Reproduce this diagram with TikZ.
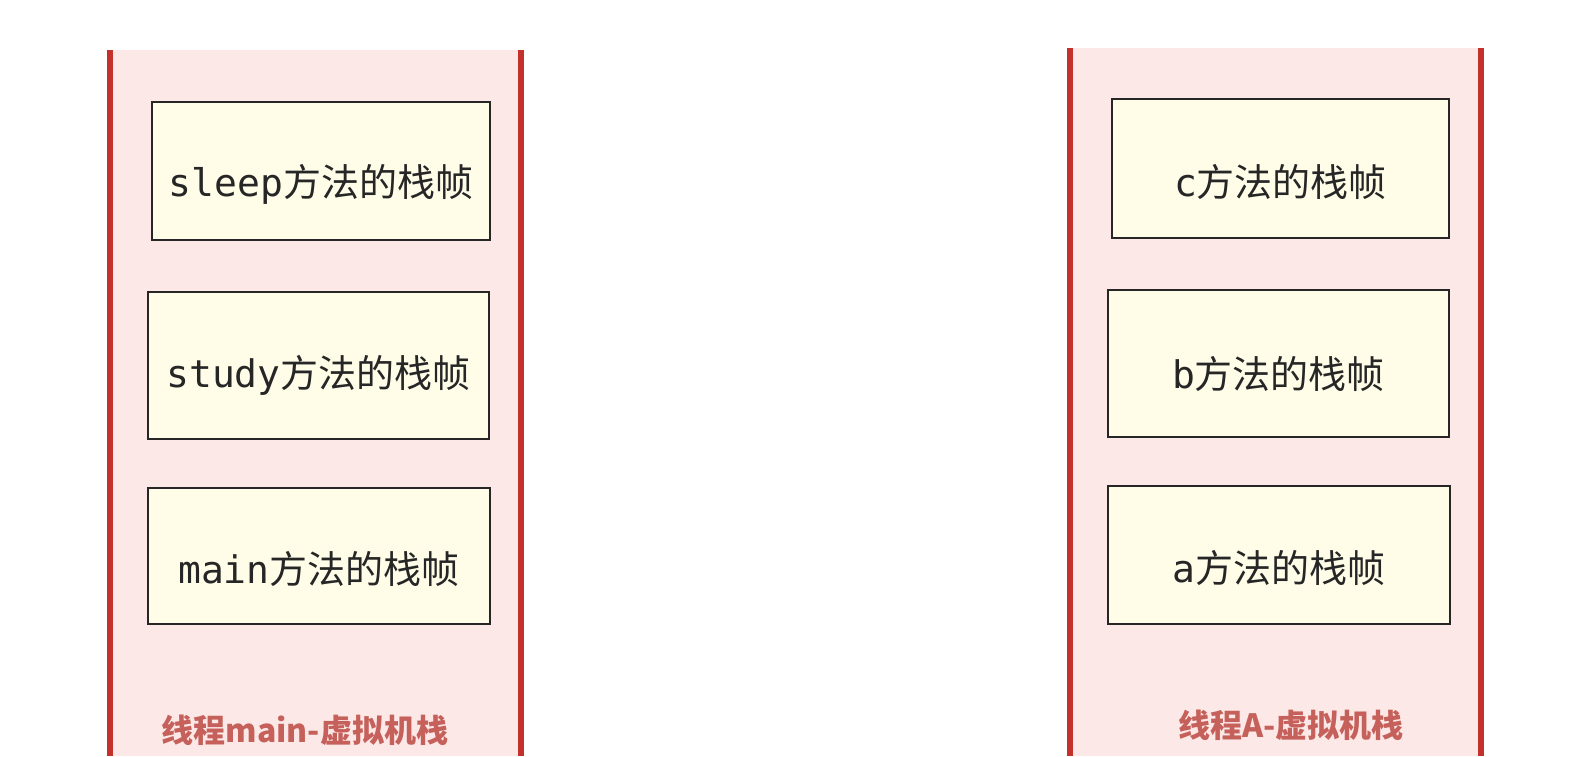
\documentclass[tikz,border=0pt]{standalone}
\usepackage{fontspec}
\newfontfamily\cjk{Noto Sans CJK SC}
\newfontfamily\mono{DejaVu Sans Mono}
\definecolor{stackpink}{HTML}{FCE8E7}
\definecolor{stackred}{HTML}{C4302B}
\definecolor{framefill}{HTML}{FFFDE8}
\definecolor{titlered}{HTML}{C5605A}
\tikzset{
  stackbg/.style={fill=stackpink, draw=none},
  stackline/.style={draw=stackred, line width=5.5pt},
  framebox/.style={draw=black!85, line width=2pt, fill=framefill},
  frametext/.style={font=\fontsize{38}{42}\selectfont, text=black!85, inner sep=0pt},
  stacktitle/.style={font=\cjk\bfseries\fontsize{32}{38}\selectfont, text=titlered, inner sep=0pt}
}
\begin{document}
\begin{tikzpicture}[x=1pt,y=-1pt]
\useasboundingbox (0,0) rectangle (1582,756);
% left stack
\fill[stackbg] (110,50) rectangle (521,756);
\draw[stackline] (110,50) -- (110,756);
\draw[stackline] (521,50) -- (521,756);
% right stack
\fill[stackbg] (1070,48) rectangle (1481,756);
\draw[stackline] (1070,48) -- (1070,756);
\draw[stackline] (1481,48) -- (1481,756);
% left frames
\node[framebox, minimum width=338pt, minimum height=138pt] (sleep) at (321,171) {};
\node[framebox, minimum width=341pt, minimum height=147pt] (study) at (318.5,365.5) {};
\node[framebox, minimum width=342pt, minimum height=136pt] (main) at (319,556) {};
\node[frametext] (sleept) at ([yshift=-13pt]sleep.center) {{\mono sleep}{\cjk 方法的栈帧}};
\node[frametext] (studyt) at ([yshift=-10pt]study.center) {{\mono study}{\cjk 方法的栈帧}};
\node[frametext] (maint) at ([yshift=-13pt]main.center) {{\mono main}{\cjk 方法的栈帧}};
% right frames
\node[framebox, minimum width=337pt, minimum height=139pt] (c) at (1280.5,168.5) {};
\node[framebox, minimum width=341pt, minimum height=147pt] (b) at (1278.5,363.5) {};
\node[framebox, minimum width=342pt, minimum height=138pt] (a) at (1279,555) {};
\node[frametext] (ct) at ([yshift=-13pt]c.center) {{\mono c}{\cjk 方法的栈帧}};
\node[frametext] (bt) at ([yshift=-10pt]b.center) {{\mono b}{\cjk 方法的栈帧}};
\node[frametext] (at) at ([yshift=-13pt]a.center) {{\mono a}{\cjk 方法的栈帧}};
% titles
\node[stacktitle] (title1) at (305,730) {线程main-虚拟机栈};
\node[stacktitle] (title2) at (1291,725) {线程A-虚拟机栈};
\end{tikzpicture}
\end{document}
